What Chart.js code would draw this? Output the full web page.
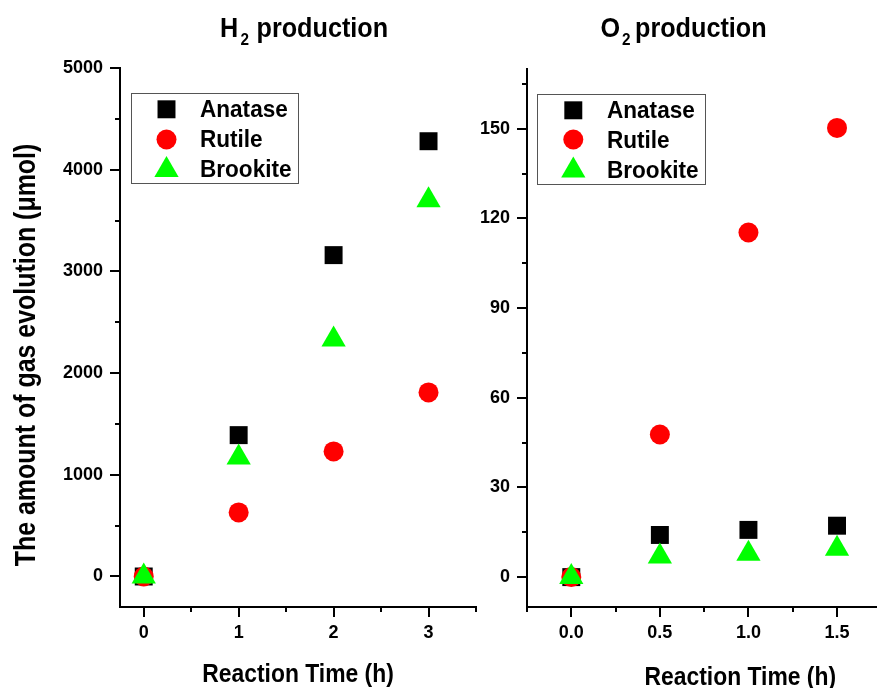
<!DOCTYPE html>
<html>
<head>
<meta charset="utf-8">
<script src="https://cdn.jsdelivr.net/npm/chart.js@4/dist/chart.umd.min.js"></script>
<style>
  html, body { margin: 0; padding: 0; background: #fff; }
  body { width: 877px; height: 688px; position: relative; overflow: hidden; }
  canvas { position: absolute; top: 0; }
  #c1 { left: 0; }
  #c2 { left: 470px; }
</style>
</head>
<body>
<canvas id="c1" width="490" height="688"></canvas>
<canvas id="c2" width="420" height="688"></canvas>
<script>
// ---------------- data ----------------
const SERIES = ['Anatase', 'Rutile', 'Brookite'];

// H2 production (µmol) vs reaction time (h)
const H2_TIME = [0, 1, 2, 3];
const H2_ANATASE = [0, 1390, 3160, 4280];
const H2_RUTILE = [0, 630, 1230, 1810];
const H2_BROOKITE = [0, 1170, 2330, 3700];

// O2 production (µmol) vs reaction time (h)
const O2_TIME = [0, 0.5, 1.0, 1.5];
const O2_ANATASE = [0, 14.1, 15.8, 17.2];
const O2_RUTILE = [0, 47.7, 115.3, 150.3];
const O2_BROOKITE = [0, 6.9, 7.8, 9.5];

// tick values
const H2_X_TICKS = [0, 0.5, 1, 1.5, 2, 2.5, 3, 3.5];
const H2_X_LABELED = [0, 1, 2, 3];
const H2_Y_TICKS = [0, 500, 1000, 1500, 2000, 2500, 3000, 3500, 4000, 4500, 5000];
const H2_Y_LABELED = [0, 1000, 2000, 3000, 4000, 5000];
const O2_X_TICKS = [-0.25, 0, 0.25, 0.5, 0.75, 1.0, 1.25, 1.5];
const O2_X_LABELED = [0, 0.5, 1.0, 1.5];
const O2_Y_TICKS = [0, 15, 30, 45, 60, 75, 90, 105, 120, 135, 150, 165];
const O2_Y_LABELED = [0, 30, 60, 90, 120, 150];

const TITLES = [['H', '2', 'production'], ['O', '2', 'production']];
const X_TITLE = 'Reaction Time (h)';
const Y_TITLE = 'The amount of gas evolution (\u03BCmol)';

// ---------------- styles ----------------
const FAMILY = '"Liberation Sans", Arial, Helvetica, sans-serif';
const STYLES = {
  Anatase: { pointStyle: 'rect', radius: 12.7, color: '#000000', order: 2 },
  Rutile: { pointStyle: 'circle', radius: 10, color: '#ff0000', order: 1 },
  Brookite: { pointStyle: 'triangle', radius: 14, color: '#00ff00', order: 0 }
};

function zip(xs, ys) { return xs.map((x, i) => ({ x: x, y: ys[i] })); }

function makeDatasets(xs, a, r, b) {
  const vals = { Anatase: a, Rutile: r, Brookite: b };
  return SERIES.map(name => ({
    label: name,
    data: zip(xs, vals[name]),
    pointStyle: STYLES[name].pointStyle,
    pointRadius: STYLES[name].radius,
    pointHoverRadius: STYLES[name].radius,
    pointBackgroundColor: STYLES[name].color,
    pointBorderColor: STYLES[name].color,
    pointBorderWidth: 0,
    showLine: false,
    order: STYLES[name].order
  }));
}

function txt(ctx, s, x, y, size, sx, align) {
  ctx.save();
  ctx.font = 'bold ' + size + 'px ' + FAMILY;
  ctx.textBaseline = 'alphabetic';
  ctx.textAlign = align || 'left';
  ctx.fillStyle = '#000';
  ctx.translate(x, y);
  ctx.scale(sx, 1);
  ctx.fillText(s, 0, 0);
  ctx.restore();
}

function drawMarker(ctx, name, x, y) {
  const st = STYLES[name];
  ctx.save();
  ctx.fillStyle = st.color;
  ctx.strokeStyle = st.color;
  if (Chart.helpers && Chart.helpers.drawPoint) {
    Chart.helpers.drawPoint(ctx, { pointStyle: st.pointStyle, radius: st.radius, rotation: 0, borderWidth: 0 }, x, y);
  } else {
    ctx.beginPath();
    const r = st.radius;
    if (st.pointStyle === 'rect') {
      const s = r * Math.SQRT1_2; ctx.rect(x - s, y - s, 2 * s, 2 * s);
    } else if (st.pointStyle === 'circle') {
      ctx.arc(x, y, r, 0, Math.PI * 2);
    } else {
      ctx.moveTo(x, y - r);
      ctx.lineTo(x + r * Math.sin(2 * Math.PI / 3), y + r * 0.5);
      ctx.lineTo(x - r * Math.sin(2 * Math.PI / 3), y + r * 0.5);
      ctx.closePath();
    }
    ctx.fill();
  }
  ctx.restore();
}

// custom decorations: ticks, titles, legend
function decoPlugin(cfg) {
  return {
    id: 'deco',
    afterDraw(chart) {
      const ctx = chart.ctx;
      const xs = chart.scales.x, ys = chart.scales.y;
      const area = chart.chartArea;
      ctx.save();
      ctx.strokeStyle = '#000';
      ctx.lineWidth = 2;
      cfg.xTicks.forEach(v => {
        const px = Math.round(xs.getPixelForValue(v));
        const len = cfg.xLabeled.indexOf(v) >= 0 ? 10 : 5;
        ctx.beginPath();
        ctx.moveTo(px, area.bottom);
        ctx.lineTo(px, area.bottom + len);
        ctx.stroke();
      });
      cfg.yTicks.forEach(v => {
        const py = Math.round(ys.getPixelForValue(v));
        const len = cfg.yLabeled.indexOf(v) >= 0 ? 10 : 5;
        ctx.beginPath();
        ctx.moveTo(area.left, py);
        ctx.lineTo(area.left - len, py);
        ctx.stroke();
      });
      ctx.restore();

      // chart title with subscript
      const t = cfg.title;
      txt(ctx, t[0], cfg.titlePos[0], 36.7, 28, 0.9);
      txt(ctx, t[1], cfg.titlePos[1], 45, 17, 0.9);
      txt(ctx, t[2], cfg.titlePos[2], 36.7, 28, 0.9);

      // x axis title
      txt(ctx, X_TITLE, cfg.xTitle[0], cfg.xTitle[1], 26, 0.88, 'center');

      // y axis title
      if (cfg.yTitle) {
        ctx.save();
        ctx.translate(cfg.yTitle[0], cfg.yTitle[1]);
        ctx.rotate(-Math.PI / 2);
        txt(ctx, Y_TITLE, 0, 0, 29, 0.86, 'center');
        ctx.restore();
      }

      // legend
      const L = cfg.legend;
      ctx.save();
      ctx.strokeStyle = '#555';
      ctx.lineWidth = 1;
      ctx.strokeRect(Math.round(L.x) + 0.5, Math.round(L.y) + 0.5, Math.round(L.w), Math.round(L.h));
      ctx.restore();
      SERIES.forEach((name, i) => {
        drawMarker(ctx, name, L.mx, L.my[i]);
        txt(ctx, name, L.tx, L.ty[i], 24, 0.94);
      });
    }
  };
}

function tickFont() { return { family: FAMILY, size: 18, weight: 'bold' }; }

function makeChart(canvasId, datasets, o) {
  return new Chart(document.getElementById(canvasId), {
    type: 'scatter',
    data: { datasets: datasets },
    plugins: [decoPlugin(o.deco)],
    options: {
      responsive: false,
      animation: false,
      events: [],
      devicePixelRatio: 1,
      layout: { padding: { top: o.top, right: 0, left: 0, bottom: 0 } },
      plugins: { legend: { display: false }, tooltip: { enabled: false }, title: { display: false } },
      scales: {
        x: {
          type: 'linear', min: o.xmin, max: o.xmax,
          afterFit: s => { s.height = o.xAxisHeight; s.paddingLeft = 0; s.paddingRight = 0; },
          afterBuildTicks: s => { s.ticks = o.deco.xTicks.map(v => ({ value: v })); },
          grid: { display: false, drawTicks: false },
          border: { display: true, color: '#000', width: 2 },
          ticks: {
            autoSkip: false, maxRotation: 0, minRotation: 0, color: '#000', font: tickFont(), padding: 15,
            callback: v => (o.deco.xLabeled.indexOf(v) >= 0 ? o.xFmt(v) : '')
          }
        },
        y: {
          type: 'linear', min: o.ymin, max: o.ymax,
          afterFit: s => { s.width = o.yAxisWidth; s.paddingTop = 0; s.paddingBottom = 0; },
          afterBuildTicks: s => { s.ticks = o.deco.yTicks.map(v => ({ value: v })); },
          grid: { display: false, drawTicks: false },
          border: { display: true, color: '#000', width: 2 },
          ticks: {
            autoSkip: false, color: '#000', font: tickFont(), padding: 17,
            callback: v => (o.deco.yLabeled.indexOf(v) >= 0 ? String(v) : '')
          }
        }
      }
    }
  });
}

// left chart: H2
makeChart('c1', makeDatasets(H2_TIME, H2_ANATASE, H2_RUTILE, H2_BROOKITE), {
  top: 68, xmin: -0.25, xmax: 3.5, ymin: -300, ymax: 5000,
  xAxisHeight: 81, yAxisWidth: 120,
  xFmt: v => String(v),
  deco: {
    xTicks: H2_X_TICKS, xLabeled: H2_X_LABELED, yTicks: H2_Y_TICKS, yLabeled: H2_Y_LABELED,
    title: TITLES[0], titlePos: [220, 240.5, 256.5],
    xTitle: [298, 681.7],
    yTitle: [35, 355],
    legend: { x: 130.7, y: 92.7, w: 167, h: 90, mx: 166.5, my: [109.3, 139.5, 170], tx: 200, ty: [117.3, 147.3, 177.3] }
  }
});

// right chart: O2 (canvas offset 470px)
const OFF = 470;
makeChart('c2', makeDatasets(O2_TIME, O2_ANATASE, O2_RUTILE, O2_BROOKITE), {
  top: 69, xmin: -0.25, xmax: 1.72, ymin: -10, ymax: 170,
  xAxisHeight: 81, yAxisWidth: 527 - OFF,
  xFmt: v => v.toFixed(1),
  deco: {
    xTicks: O2_X_TICKS, xLabeled: O2_X_LABELED, yTicks: O2_Y_TICKS, yLabeled: O2_Y_LABELED,
    title: TITLES[1], titlePos: [600.5 - OFF, 622 - OFF, 635 - OFF],
    xTitle: [740.3 - OFF, 685],
    yTitle: null,
    legend: { x: 537.3 - OFF, y: 93.7, w: 167.7, h: 89.6, mx: 573.3 - OFF, my: [110.3, 139.5, 170.5], tx: 607 - OFF, ty: [118.2, 148, 177.7] }
  }
});
</script>
</body>
</html>
